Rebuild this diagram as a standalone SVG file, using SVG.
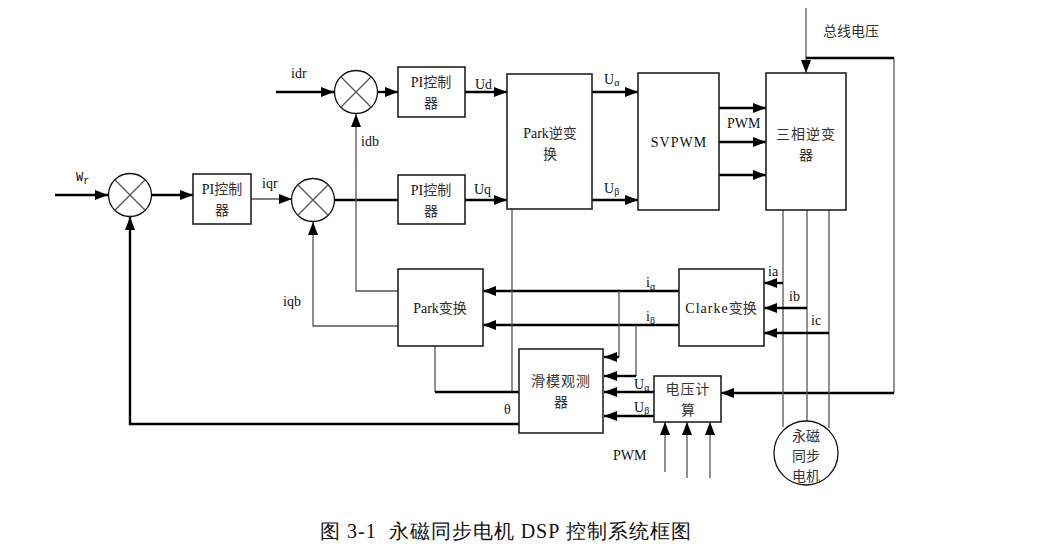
<svg xmlns="http://www.w3.org/2000/svg" width="1039" height="550" viewBox="0 0 1039 550">
<style>
.t{font-family:"Liberation Serif",serif;font-size:14px;fill:#111}
.c{font-family:"Noto Sans CJK SC",sans-serif;font-size:14px;fill:#333}
.box{fill:#fff;stroke:#222;stroke-width:1.6}
.thk{fill:none;stroke:#000;stroke-width:2.4}
.thn{fill:none;stroke:#555;stroke-width:1.3}
.sum{fill:#fff;stroke:#111;stroke-width:1.3}
</style>
<defs>
<marker id="a" markerWidth="13" markerHeight="10" refX="13" refY="5" orient="auto" markerUnits="userSpaceOnUse">
<path d="M0,0 L13,5 L0,10 Z" fill="#000"/>
</marker>
</defs>
<rect width="1039" height="550" fill="#fff"/>
<g id="connectors">
<line class="thk" x1="55" y1="195" x2="108" y2="195" marker-end="url(#a)"/>
<line class="thk" x1="151" y1="195" x2="193" y2="195" marker-end="url(#a)"/>
<line class="thn" x1="251" y1="199" x2="292" y2="199" marker-end="url(#a)"/>
<line class="thk" x1="276" y1="92" x2="334" y2="92" marker-end="url(#a)"/>
<line class="thk" x1="377" y1="92" x2="398" y2="92" marker-end="url(#a)"/>
<line class="thk" x1="335" y1="200" x2="398" y2="200"/>
<polyline class="thn" points="398,291 356,291 356,114" marker-end="url(#a)"/>
<polyline class="thn" points="398,326 313,326 313,222" marker-end="url(#a)"/>
<polyline class="thk" points="519,424 130,424 130,217" marker-end="url(#a)"/>
<line class="thk" x1="465" y1="92" x2="507" y2="92" marker-end="url(#a)"/>
<line class="thk" x1="465" y1="200" x2="507" y2="200" marker-end="url(#a)"/>
<line class="thk" x1="592" y1="92" x2="638" y2="92" marker-end="url(#a)"/>
<line class="thk" x1="592" y1="200" x2="638" y2="200" marker-end="url(#a)"/>
<line class="thk" x1="719" y1="108" x2="766" y2="108" stroke-width="3" marker-end="url(#a)"/>
<line class="thk" x1="719" y1="142" x2="766" y2="142" stroke-width="2" marker-end="url(#a)"/>
<line class="thk" x1="719" y1="175" x2="766" y2="175" stroke-width="2" marker-end="url(#a)"/>
<line class="thn" x1="806" y1="8" x2="806" y2="73" marker-end="url(#a)"/>
<polyline class="thk" points="806,58 894,58" stroke-width="2"/>
<polyline class="thn" points="894,58 894,393"/>
<line class="thk" x1="894" y1="393" x2="721" y2="393" marker-end="url(#a)"/>
<line class="thn" x1="783" y1="210" x2="783" y2="427"/>
<line class="thn" x1="807" y1="210" x2="807" y2="421"/>
<line class="thn" x1="829" y1="210" x2="829" y2="428"/>
<line class="thk" x1="783" y1="283" x2="764" y2="283" marker-end="url(#a)"/>
<line class="thk" x1="807" y1="308" x2="764" y2="308" marker-end="url(#a)"/>
<line class="thk" x1="829" y1="333" x2="764" y2="333" marker-end="url(#a)"/>
<line class="thk" x1="679" y1="291" x2="483" y2="291" marker-end="url(#a)"/>
<line class="thk" x1="679" y1="325" x2="483" y2="325" marker-end="url(#a)"/>
<polyline class="thn" points="619,291 619,357"/>
<line class="thk" x1="619" y1="357" x2="604" y2="357" marker-end="url(#a)"/>
<polyline class="thn" points="636,325 636,376"/>
<line class="thk" x1="636" y1="376" x2="604" y2="376" marker-end="url(#a)"/>
<line class="thk" x1="654" y1="392" x2="604" y2="392" marker-end="url(#a)"/>
<line class="thk" x1="654" y1="416" x2="604" y2="416" marker-end="url(#a)"/>
<line class="thn" x1="665" y1="472" x2="665" y2="422" marker-end="url(#a)"/>
<line class="thn" x1="687" y1="478" x2="687" y2="422" marker-end="url(#a)"/>
<line class="thn" x1="710" y1="478" x2="710" y2="422" marker-end="url(#a)"/>
<polyline class="thn" points="512,209 512,392"/>
<polyline class="thn" points="435,346 435,392"/>
<line class="thk" x1="435" y1="392" x2="519" y2="392" stroke-width="2"/>
</g>
<g id="sum1"><circle class="sum" cx="130" cy="195" r="21.5"/><path class="thn" stroke="#111" d="M114.8,179.8 L145.2,210.2 M145.2,179.8 L114.8,210.2"/></g>
<g id="sum2"><circle class="sum" cx="313" cy="200" r="21.5"/><path class="thn" stroke="#111" d="M297.8,184.8 L328.2,215.2 M328.2,184.8 L297.8,215.2"/></g>
<g id="sum3"><circle class="sum" cx="356" cy="92" r="21.5"/><path class="thn" stroke="#111" d="M340.8,76.8 L371.2,107.2 M371.2,76.8 L340.8,107.2"/></g>
<g id="pi1"><rect class="box" x="193" y="174" width="58" height="50"/><text x="222" y="194" text-anchor="middle"><tspan class="t">PI</tspan><tspan class="c">控制</tspan></text><text class="c" x="222" y="215" text-anchor="middle">器</text></g>
<g id="pi2"><rect class="box" x="398" y="67" width="67" height="50"/><text x="431" y="87" text-anchor="middle"><tspan class="t">PI</tspan><tspan class="c">控制</tspan></text><text class="c" x="431" y="108" text-anchor="middle">器</text></g>
<g id="pi3"><rect class="box" x="398" y="175" width="67" height="49"/><text x="431" y="195" text-anchor="middle"><tspan class="t">PI</tspan><tspan class="c">控制</tspan></text><text class="c" x="431" y="216" text-anchor="middle">器</text></g>
<g id="ipark"><rect class="box" x="507" y="74" width="85" height="135"/><text x="550" y="138" text-anchor="middle"><tspan class="t">Park</tspan><tspan class="c">逆变</tspan></text><text class="c" x="550" y="159" text-anchor="middle">换</text></g>
<g id="svpwm"><rect class="box" x="638" y="73" width="81" height="137"/><text class="t" x="679" y="147" text-anchor="middle" letter-spacing="1">SVPWM</text></g>
<g id="inverter"><rect class="box" x="766" y="73" width="80" height="137"/><text class="c" x="806" y="139" text-anchor="middle" letter-spacing="1">三相逆变</text><text class="c" x="806" y="160" text-anchor="middle">器</text></g>
<g id="park"><rect class="box" x="398" y="269" width="85" height="77"/><text x="440" y="313" text-anchor="middle"><tspan class="t">Park</tspan><tspan class="c">变换</tspan></text></g>
<g id="clarke"><rect class="box" x="679" y="269" width="85" height="77"/><text x="721" y="313" text-anchor="middle"><tspan class="t" letter-spacing="1">Clarke</tspan><tspan class="c">变换</tspan></text></g>
<g id="observer"><rect class="box" x="519" y="349" width="84" height="84"/><text class="c" x="561" y="386" text-anchor="middle" letter-spacing="1">滑模观测</text><text class="c" x="561" y="407" text-anchor="middle">器</text></g>
<g id="vcalc"><rect class="box" x="654" y="376" width="67" height="46"/><text class="c" x="688" y="394" text-anchor="middle" letter-spacing="1">电压计</text><text class="c" x="688" y="415" text-anchor="middle">算</text></g>
<g id="motor"><circle class="sum" cx="806" cy="453" r="32"/><text class="c" x="806" y="441" text-anchor="middle">永磁</text><text class="c" x="806" y="461" text-anchor="middle">同步</text><text class="c" x="806" y="481" text-anchor="middle">电机</text></g>
<g id="labels">
<text x="76" y="181" style="font-family:'Liberation Mono',monospace;font-size:12px">W<tspan font-size="10" dy="3">r</tspan></text>
<text class="t" x="262" y="188">iqr</text>
<text class="t" x="291" y="78">idr</text>
<text class="t" x="361" y="146">idb</text>
<text class="t" x="283" y="306">iqb</text>
<text class="t" x="475" y="89">Ud</text>
<text class="t" x="474" y="194">Uq</text>
<text class="t" x="604" y="84">U<tspan font-size="10" dy="2">α</tspan></text>
<text class="t" x="604" y="193">U<tspan font-size="10" dy="2">β</tspan></text>
<text class="t" x="727" y="128">PWM</text>
<text class="c" x="823" y="36">总线电压</text>
<text class="t" x="768" y="276">ia</text>
<text class="t" x="789" y="301">ib</text>
<text class="t" x="811" y="325">ic</text>
<text class="t" x="646" y="287">i<tspan font-size="10" dy="3">α</tspan></text>
<text class="t" x="646" y="321">i<tspan font-size="10" dy="3">β</tspan></text>
<text class="t" x="634" y="389">U<tspan font-size="10" dy="2">α</tspan></text>
<text class="t" x="634" y="412">U<tspan font-size="10" dy="2">β</tspan></text>
<text class="t" x="504" y="414" font-size="12">θ</text>
<text class="t" x="613" y="460">PWM</text>
<text x="320" y="538" style="font-family:'Liberation Serif',serif;font-size:20px;fill:#111;white-space:pre;letter-spacing:1px">图 3-1  永磁同步电机 DSP 控制系统框图</text>
</g>
</svg>
